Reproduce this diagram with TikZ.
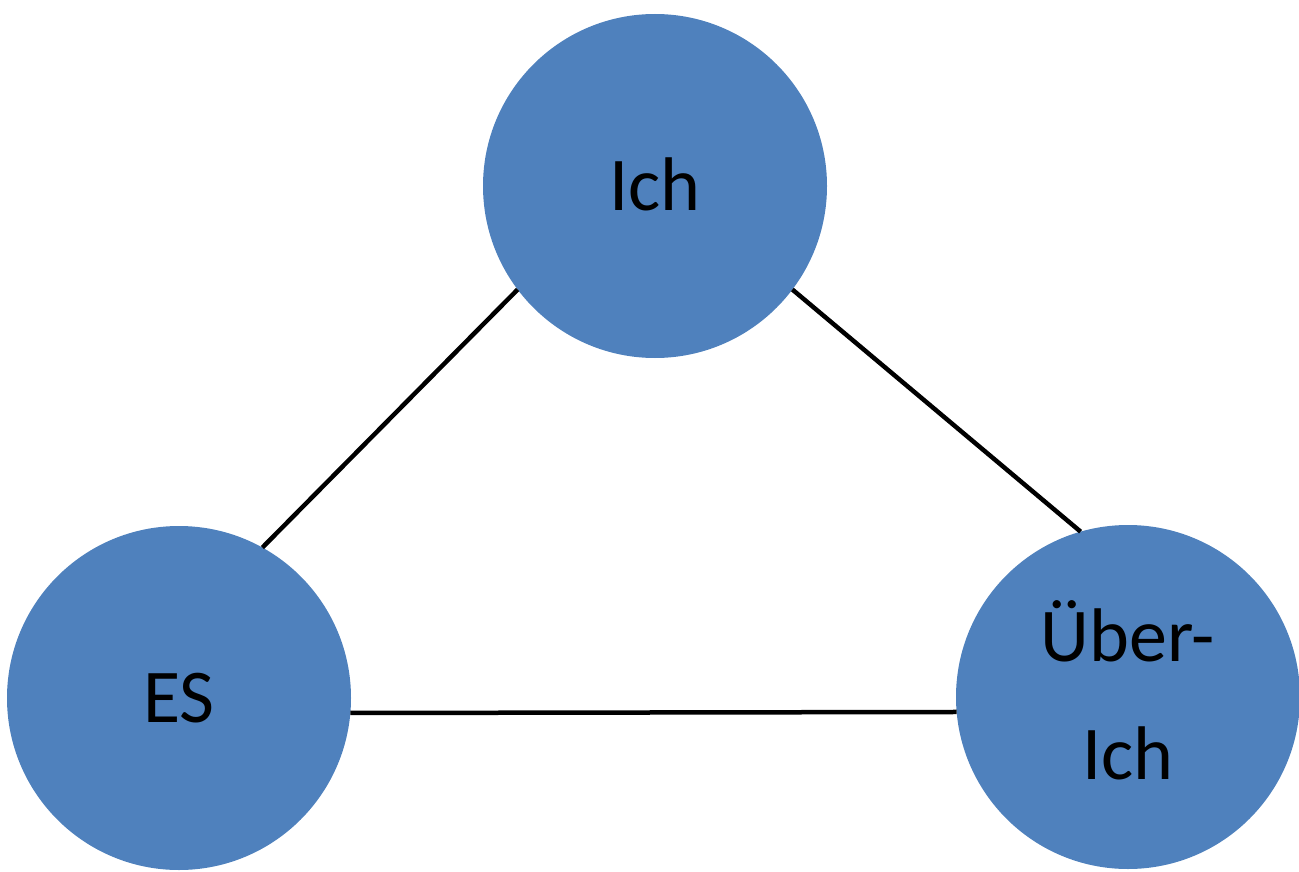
\documentclass[tikz,border=0pt]{standalone}
\usepackage{fontspec}
\setmainfont{Carlito}
\definecolor{nodeblue}{HTML}{4F81BD}
\begin{document}
\begin{tikzpicture}[x=1pt,y=-1pt,
  ball/.style={circle,fill=nodeblue,draw=none,minimum size=344pt,inner sep=0pt,outer sep=0pt,
    font=\fontsize{76}{118}\selectfont},
  link/.style={line width=4.5pt,black}]
\useasboundingbox (0,0) rectangle (1299,872);
\node[ball] (ich) at (655,186) {\raisebox{4pt}{Ich}};
\node[ball] (es) at (179,698) {ES};
\node[ball] (ueber) at (1128,697) {\raisebox{7pt}{\begin{tabular}{@{}c@{}}Über-\\Ich\end{tabular}}};
\draw[link] (es.61) -- (ich.217);
\draw[link] (ich.323) -- (ueber.106.5);
\draw[link] (es.-5) -- (ueber.185);
\end{tikzpicture}
\end{document}
